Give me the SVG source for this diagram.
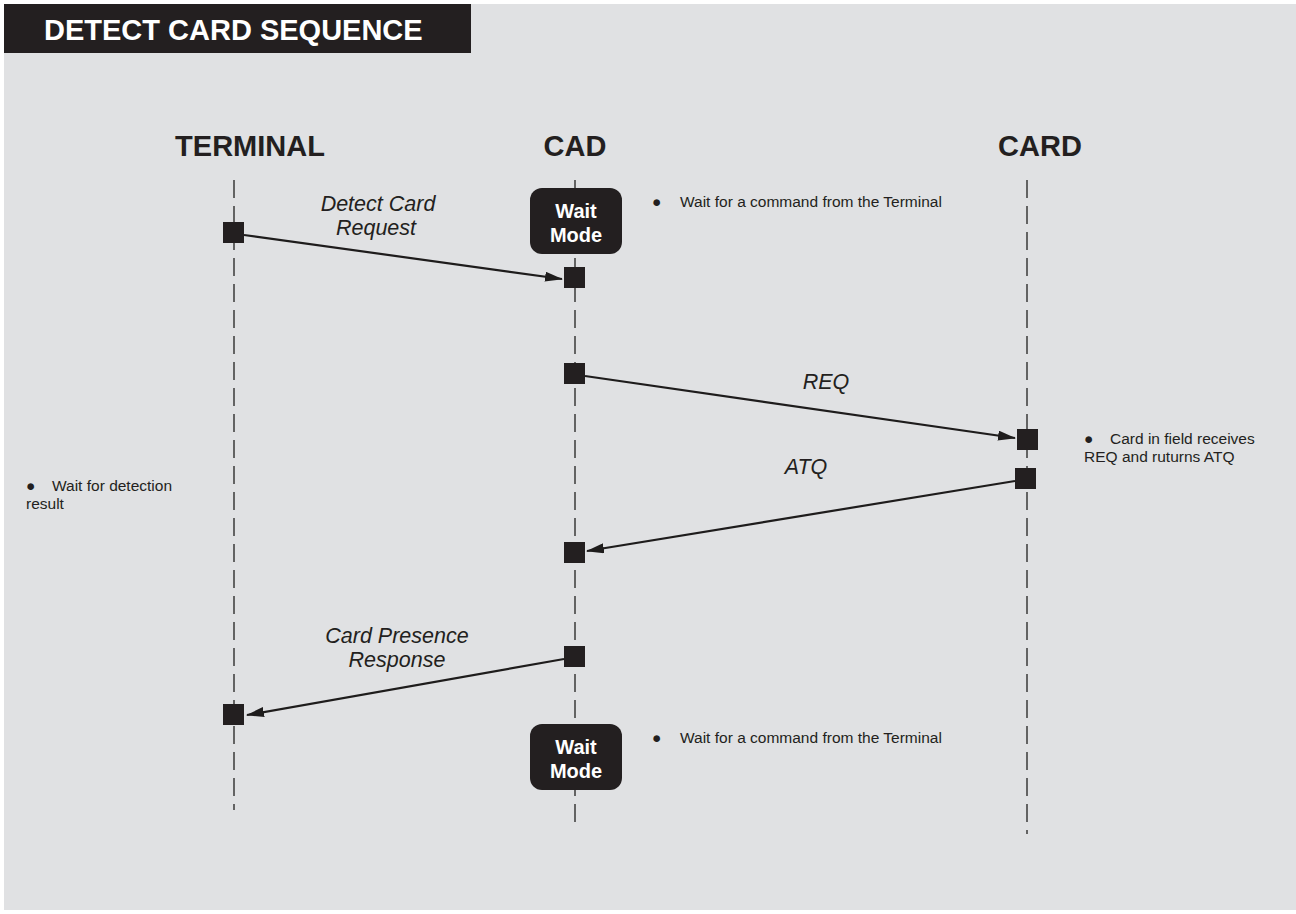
<svg xmlns="http://www.w3.org/2000/svg" width="1296" height="914" viewBox="0 0 1296 914">
<style>
.life{stroke:#3a3a3a;stroke-width:1.5;stroke-dasharray:18 8;fill:none}
.msg{stroke:#1e1c1c;stroke-width:2.2;fill:none;marker-end:url(#ah)}
.sq{fill:#231f20}
.hdr{font-family:"Liberation Sans",Arial,sans-serif;font-weight:bold;font-size:29px;fill:#231f20;text-anchor:middle}
.lbl{font-family:"Liberation Sans",Arial,sans-serif;font-style:italic;font-size:21.5px;fill:#231f20;text-anchor:middle}
.note{font-family:"Liberation Sans",Arial,sans-serif;font-size:15.5px;fill:#231f20}
.wm{fill:#231f20}
.wmt{font-family:"Liberation Sans",Arial,sans-serif;font-weight:bold;font-size:20px;fill:#fff;text-anchor:middle}
</style>
<defs>
<marker id="ah" markerWidth="18" markerHeight="10" refX="17" refY="5" orient="auto" markerUnits="userSpaceOnUse">
<path d="M0,0 L18,5 L0,10 Z" fill="#1e1c1c"/>
</marker>
</defs>
<rect x="0" y="0" width="1296" height="914" fill="#fff"/>
<rect x="4" y="4" width="1292" height="906" fill="#e0e1e3"/>
<g id="title">
<rect x="4" y="4" width="467" height="49" fill="#231f20"/>
<text x="44" y="40" font-family="'Liberation Sans',Arial,sans-serif" font-weight="bold" font-size="29" fill="#fff">DETECT CARD SEQUENCE</text>
</g>
<g id="lifelines">
<line class="life" x1="234" y1="180" x2="234" y2="810"/>
<line class="life" x1="575" y1="180" x2="575" y2="822"/>
<line class="life" x1="1027" y1="180" x2="1027" y2="834"/>
</g>
<g id="terminal"><text class="hdr" x="250" y="156">TERMINAL</text></g>
<g id="cad"><text class="hdr" x="575" y="156">CAD</text></g>
<g id="card"><text class="hdr" x="1040" y="156">CARD</text></g>
<g id="wait1">
<rect class="wm" x="530" y="188" width="92" height="66" rx="12"/>
<text class="wmt" x="576" y="218">Wait</text>
<text class="wmt" x="576" y="242">Mode</text>
</g>
<g id="wait2">
<rect class="wm" x="530" y="724" width="92" height="66" rx="12"/>
<text class="wmt" x="576" y="754">Wait</text>
<text class="wmt" x="576" y="778">Mode</text>
</g>
<g id="activations">
<rect class="sq" x="223" y="222" width="21" height="21"/>
<rect class="sq" x="564" y="267" width="21" height="21"/>
<rect class="sq" x="564" y="363" width="21" height="21"/>
<rect class="sq" x="1017" y="429" width="21" height="21"/>
<rect class="sq" x="1015" y="468" width="21" height="21"/>
<rect class="sq" x="564" y="542" width="21" height="21"/>
<rect class="sq" x="564" y="646" width="21" height="21"/>
<rect class="sq" x="223" y="704" width="21" height="21"/>
</g>
<g id="connectors">
<line class="msg" x1="244" y1="235" x2="562" y2="279"/>
<line class="msg" x1="585" y1="376" x2="1015" y2="438"/>
<line class="msg" x1="1015" y1="481" x2="587" y2="551"/>
<line class="msg" x1="564" y1="659" x2="247" y2="715"/>
</g>
<g id="labels">
<text class="lbl" x="378" y="211">Detect Card</text>
<text class="lbl" x="376" y="235">Request</text>
<text class="lbl" x="826" y="389">REQ</text>
<text class="lbl" x="806" y="474">ATQ</text>
<text class="lbl" x="397" y="643">Card Presence</text>
<text class="lbl" x="397" y="667">Response</text>
</g>
<g id="notes">
<text class="note" y="207"><tspan x="652">●</tspan><tspan x="680">Wait for a command from the Terminal</tspan></text>
<text class="note" y="743"><tspan x="652">●</tspan><tspan x="680">Wait for a command from the Terminal</tspan></text>
<text class="note" y="444"><tspan x="1084">●</tspan><tspan x="1110">Card in field receives</tspan></text>
<text class="note" x="1084" y="462">REQ and ruturns ATQ</text>
<text class="note" y="491"><tspan x="26">●</tspan><tspan x="52">Wait for detection</tspan></text>
<text class="note" x="26" y="509">result</text>
</g>
</svg>
